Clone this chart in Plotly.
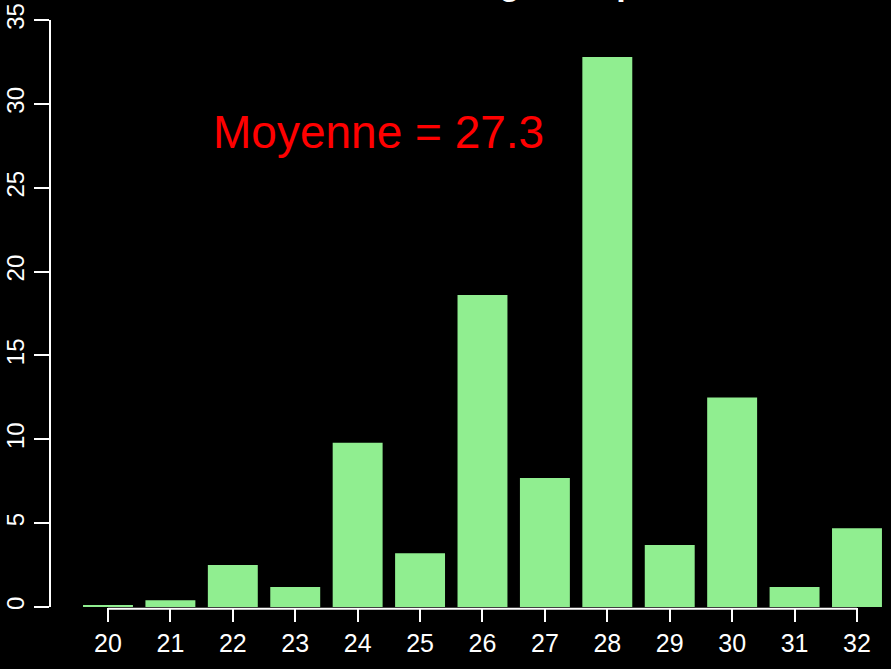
import plotly.graph_objects as go

ages = [20, 21, 22, 23, 24, 25, 26, 27, 28, 29, 30, 31, 32]
pourcentages = [0.12, 0.4, 2.5, 1.2, 9.8, 3.2, 18.6, 7.7, 32.8, 3.7, 12.5, 1.2, 4.7]
y_ticks = [0, 5, 10, 15, 20, 25, 30, 35]
moyenne = 27.3

fig = go.Figure(go.Bar(
    x=ages, y=pourcentages, width=0.8,
    marker=dict(color="#90EE90", line=dict(width=0)),
))

# R-style axis lines (only between first and last tick)
fig.add_shape(type="line", xref="paper", yref="y", x0=0, x1=0, y0=0, y1=35,
              line=dict(color="white", width=2))
fig.add_shape(type="line", xref="x", yref="paper", x0=ages[0], x1=ages[-1], y0=-0.003, y1=-0.003,
              line=dict(color="white", width=2))

fig.add_annotation(x=24.33, y=28.3, xref="x", yref="y", showarrow=False,
                   text=f"Moyenne = {moyenne}",
                   font=dict(family="Liberation Sans", size=46, color="red"))

# title, mostly cut off above the page
fig.add_annotation(x=0.19, y=1, xref="paper", yref="paper", xanchor="left", yanchor="bottom",
                   yshift=-4, showarrow=False,
                   text="<b>Distribution des âges en pour cent,</b>",
                   font=dict(family="Liberation Sans", size=34, color="white"))

fig.update_layout(
    width=891, height=669,
    margin=dict(l=50, r=0, t=0, b=62),
    paper_bgcolor="black", plot_bgcolor="black",
    showlegend=False,
    font=dict(family="Liberation Sans", color="white"),
    xaxis=dict(range=[19.071, 32.545], tickvals=ages, ticktext=[str(a) for a in ages],
               ticks="outside", ticklen=14, tickwidth=2, tickcolor="white",
               tickfont=dict(size=25, color="white"), showgrid=False, zeroline=False,
               showline=False),
    yaxis=dict(range=[0, 36.2], tickvals=y_ticks, tickangle=-90,
               ticks="outside", ticklen=15, tickwidth=2, tickcolor="white",
               tickfont=dict(size=24, color="white"), showgrid=False, zeroline=False,
               showline=False),
)

fig.write_html("out.html", config={"displayModeBar": False},
               post_script="document.body.style.margin='0';document.body.style.background='black';")
